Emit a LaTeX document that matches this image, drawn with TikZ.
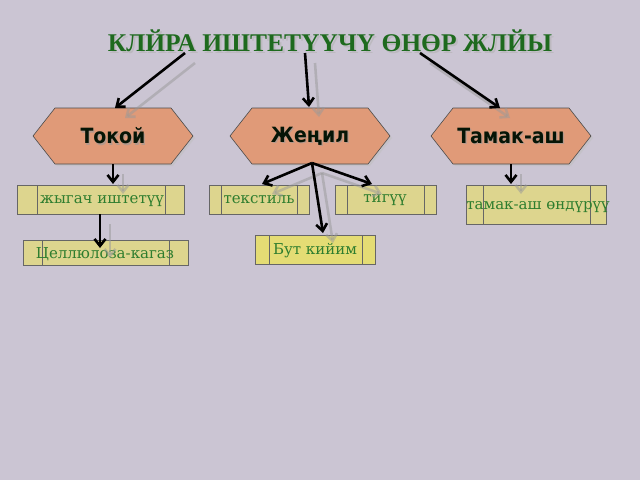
\documentclass[tikz,border=0pt]{standalone}
\usepackage{fontspec}
\setmainfont{DejaVu Serif}
\newfontfamily\titlefont{Liberation Serif}
\newfontfamily\hexfont{DejaVu Sans Condensed}
\usetikzlibrary{arrows.meta}
\definecolor{bg}{HTML}{CBC5D3}
\definecolor{hexfill}{HTML}{E09A78}
\definecolor{boxfill}{HTML}{DDD58E}
\definecolor{boxfillb}{HTML}{E4DC74}
\definecolor{tgreen}{HTML}{1E6A1E}
\definecolor{bgreen}{HTML}{2E7D2E}
\tikzset{
  arr/.style={line width=2.6pt,black,-{Straight Barb[length=7pt,width=11pt]}},
  sarr/.style={line width=2.6pt,black!40,opacity=0.5,-{Straight Barb[length=7pt,width=11pt]}},
  hex/.style={draw=black!70,fill=hexfill,line width=0.6pt},
  boxs/.style={draw=black!60,line width=0.6pt},
  btxt/.style={text=bgreen,font=\fontsize{15}{17}\selectfont},
  htxt/.style={font=\hexfont\bfseries\fontsize{21}{24}\selectfont,text=black!80!tgreen},
}
\newcommand{\hexat}[3]{%
  \fill[black!25,opacity=0.5] ({#1-78},{#2+2}) -- ({#1-56},{#2-26}) -- ({#1+60},{#2-26}) -- ({#1+82},{#2+2}) -- ({#1+60},{#2+30}) -- ({#1-56},{#2+30}) -- cycle;
  \draw[hex] ({#1-80},#2) -- ({#1-58},{#2-28}) -- ({#1+58},{#2-28}) -- ({#1+80},#2) -- ({#1+58},{#2+28}) -- ({#1-58},{#2+28}) -- cycle;
  \node[htxt,text=black!40,opacity=0.6] at ({#1+1.2},{#2+1.2}) {#3};
}
\newcommand{\boxat}[7]{% x1 y1 x2 y2 l1 l2 fill
  \draw[boxs,fill=#7] (#1,#2) rectangle (#3,#4);
  \draw[boxs] (#5,#2) -- (#5,#4) (#6,#2) -- (#6,#4);
}
\begin{document}
\begin{tikzpicture}[x=1pt,y=-1pt]
\fill[bg] (0,0) rectangle (640,480);
\useasboundingbox (0,0) rectangle (640,480);
% title
\node[font=\titlefont\bfseries\fontsize{25.5}{28}\selectfont,text=black!30,opacity=0.6] at (332,43) {КЛЙРА ИШТЕТҮҮЧҮ ӨНӨР ЖЛЙЫ};
\node (title) [font=\titlefont\bfseries\fontsize{25.5}{28}\selectfont,text=tgreen] at (330,41) {КЛЙРА ИШТЕТҮҮЧҮ ӨНӨР ЖЛЙЫ};
% hexagons
\hexat{113}{136}{Токой}
\node (tok) [htxt] at (113,136) {Токой};
\hexat{310}{136}{Жеңил}
\node (jen) [htxt] at (310,136) {Жеңил};
\hexat{511}{136}{Тамак-аш}
\node (tam) [htxt] at (511,136) {Тамак-аш};
% boxes
\boxat{17}{185}{184}{214}{37}{165}{boxfill}
\node (jyg) [btxt] at (102,201) {жыгач иштетүү};
\boxat{209}{185}{309}{214}{221}{297}{boxfill}
\node (tek) [btxt] at (259,200) {текстиль};
\boxat{335}{185}{436}{214}{347}{424}{boxfill}
\node (tig) [btxt] at (385,200) {тигүү};
\boxat{466}{185}{606}{224}{483}{590}{boxfill}
\node (tao) [btxt] at (538,207) {тамак-аш өндүрүү};
\boxat{23}{240}{188}{265}{42}{169}{boxfill}
\node (cel) [btxt] at (105,254) {Целлюлоза-кагаз};
\boxat{255}{235}{375}{264}{269}{362}{boxfillb}
\node (but) [btxt] at (315,251) {Бут кийим};
% coordinates
\coordinate (t1) at (185,53); \coordinate (t2) at (305,53); \coordinate (t3) at (420,53);
\coordinate (h1t) at (115,108); \coordinate (h2t) at (309,107); \coordinate (h3t) at (500,108);
\coordinate (h1b) at (113,164); \coordinate (h2b) at (312,163); \coordinate (h3b) at (511,164);
\coordinate (jygT) at (113,184); \coordinate (jygB) at (100,214); \coordinate (celT) at (100,248);
\coordinate (tekT) at (262,184); \coordinate (tigT) at (372,184); \coordinate (butT) at (323,233);
\coordinate (taoT) at (511,184);
% shadow arrows
\tikzset{sh/.style={shift={(10,10)}}}
\foreach \a/\b in {t1/h1t,t2/h2t,t3/h3t,h1b/jygT,jygB/celT,h2b/tekT,h2b/tigT,h2b/butT,h3b/taoT}
  \draw[sarr] ([sh]\a) -- ([sh]\b);
% arrows
\draw[arr] (t1) -- (h1t); \draw[arr] (t2) -- (h2t); \draw[arr] (t3) -- (h3t);
\draw[arr] (h1b) -- (jygT); \draw[arr] (jygB) -- (celT);
\draw[arr] (h2b) -- (tekT); \draw[arr] (h2b) -- (tigT); \draw[arr] (h2b) -- (butT);
\draw[arr] (h3b) -- (taoT);
\end{tikzpicture}
\end{document}
